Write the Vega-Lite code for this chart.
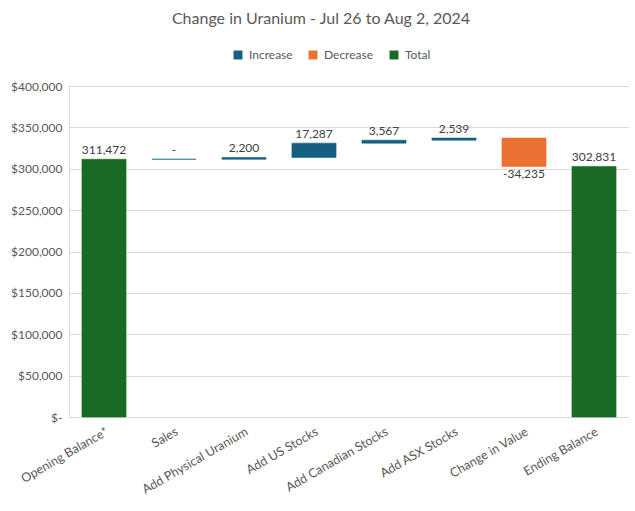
{
  "$schema": "https://vega.github.io/schema/vega-lite/v6.json",
  "autosize": "none",
  "width": 560,
  "height": 331,
  "padding": {"left": 69, "top": 86, "right": 6, "bottom": 94},
  "background": "white",
  "title": {
    "text": "Change in Uranium - Jul 26 to Aug 2, 2024",
    "anchor": "middle",
    "frame": "group",
    "dx": -28,
    "offset": 22,
    "font": "Lato",
    "fontSize": 16,
    "fontWeight": "normal",
    "color": "#595959"
  },
  "config": {
    "view": {"stroke": null},
    "font": "Lato"
  },
  "data": {
    "values": [
      {"category": "Opening Balance*", "type": "Total", "start": 0, "end": 311472, "label": "311,472"},
      {"category": "Sales", "type": "Increase", "start": 311472, "end": 311472, "label": "-"},
      {"category": "Add Physical Uranium", "type": "Increase", "start": 311472, "end": 313672, "label": "2,200"},
      {"category": "Add US Stocks", "type": "Increase", "start": 313672, "end": 330959, "label": "17,287"},
      {"category": "Add  Canadian Stocks", "type": "Increase", "start": 330959, "end": 334526, "label": "3,567"},
      {"category": "Add ASX Stocks", "type": "Increase", "start": 334526, "end": 337065, "label": "2,539"},
      {"category": "Change in Value", "type": "Decrease", "start": 337065, "end": 302830, "label": "-34,235"},
      {"category": "Ending Balance", "type": "Total", "start": 0, "end": 302831, "label": "302,831"}
    ]
  },
  "encoding": {
    "x": {
      "field": "category",
      "type": "nominal",
      "sort": null,
      "scale": {"paddingInner": 0.37, "paddingOuter": 0.185},
      "axis": {
        "title": null,
        "labelAngle": -30,
        "labelFontSize": 12.5,
        "labelColor": "#595959",
        "labelFont": "Lato",
        "domainColor": "#d9d9d9",
        "ticks": false,
        "labelPadding": 8,
        "labelLimit": 200
      }
    }
  },
  "layer": [
    {
      "mark": {"type": "bar", "strokeWidth": 0.6},
      "encoding": {
        "y": {
          "field": "start",
          "type": "quantitative",
          "scale": {"domain": [0, 400000], "nice": false},
          "axis": {
            "title": null,
            "values": [0, 50000, 100000, 150000, 200000, 250000, 300000, 350000, 400000],
            "labelExpr": "datum.value == 0 ? '$-' : '$' + format(datum.value, ',')",
            "labelFontSize": 12,
            "labelColor": "#595959",
            "labelFont": "Lato",
            "gridColor": "#d9d9d9",
            "domainColor": "#d9d9d9",
            "ticks": false,
            "labelPadding": 7
          }
        },
        "y2": {"field": "end"},
        "color": {
          "field": "type",
          "type": "nominal",
          "scale": {"domain": ["Increase", "Decrease", "Total"], "range": ["#156082", "#E97132", "#196B24"]},
          "legend": {
            "title": null,
            "orient": "none",
            "direction": "horizontal",
            "legendX": 163,
            "legendY": -37,
            "symbolType": "square",
            "symbolSize": 80,
            "symbolStrokeWidth": 0,
            "labelFontSize": 12,
            "labelColor": "#595959",
            "labelFont": "Lato",
            "columnPadding": 14,
            "labelOffset": 5
          }
        },
        "stroke": {"field": "type", "type": "nominal", "legend": null, "scale": {"domain": ["Increase", "Decrease", "Total"], "range": ["#156082", "#E97132", "#196B24"]}}
      }
    },
    {
      "transform": [{"filter": "datum.type != 'Decrease'"}],
      "mark": {"type": "text", "baseline": "bottom", "dy": -2, "fontSize": 12, "color": "#404040", "font": "Lato"},
      "encoding": {
        "y": {"field": "end", "type": "quantitative"},
        "text": {"field": "label"}
      }
    },
    {
      "transform": [{"filter": "datum.type == 'Decrease'"}],
      "mark": {"type": "text", "baseline": "top", "dy": 3, "fontSize": 12, "color": "#404040", "font": "Lato"},
      "encoding": {
        "y": {"field": "end", "type": "quantitative"},
        "text": {"field": "label"}
      }
    }
  ]
}
